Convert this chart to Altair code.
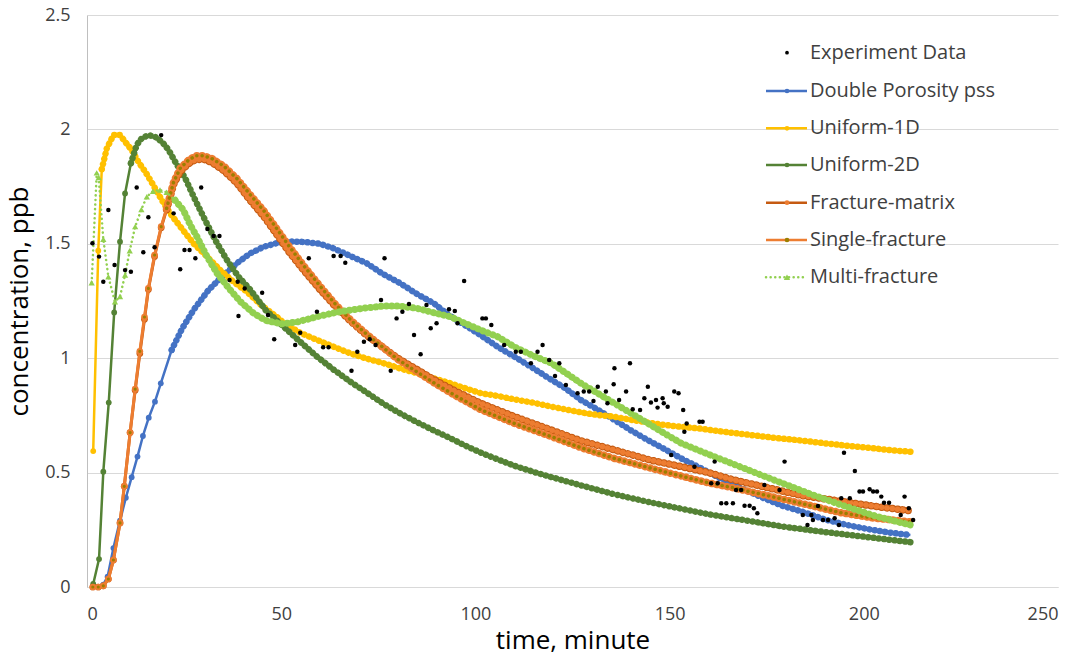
import altair as alt
import pandas as pd

# ---------------- data ----------------
exp_t = [1.4, 3.1, 4.2, 5.5, 7.1, 9.8, 11.3, 12.8, 14.5, 15.8, 17.4, 19.1, 22.3, 24.0, 25.1, 26.4, 27.9, 29.4,
         31.0, 32.6, 34.1, 36.7, 38.8, 39.0, 40.6, 45.1, 46.6, 48.2, 53.6, 54.9, 57.1, 59.2, 60.8, 62.2, 63.5,
         65.3, 66.5, 68.1, 69.6, 71.3, 72.8, 74.3, 75.7, 76.6, 78.2, 79.7, 81.2, 82.9, 84.2, 85.9, 87.4, 88.5,
         90.0, 93.2, 94.7, 95.4, 97.1, 101.8, 102.7, 104.1, 107.4, 110.4, 111.7, 114.3, 116.0, 117.3, 119.0,
         120.5, 121.6, 123.3, 126.3, 127.9, 129.3, 130.4, 131.5, 133.6, 134.0, 135.6, 135.8, 137.0, 138.8,
         139.8, 140.5, 142.4, 143.5, 144.4, 145.2, 146.5, 146.9, 148.2, 148.5, 149.5, 150.4, 151.2, 152.3,
         153.5, 153.8, 154.4, 156.4, 157.7, 158.5, 160.7, 161.6, 162.4, 163.3, 164.6, 166.3, 167.1, 168.4,
         169.3, 170.6, 171.7, 172.6, 174.4, 178.3, 179.6, 184.3, 185.5, 186.5, 186.9, 188.2, 189.5, 190.8,
         192.5, 193.6, 194.2, 194.9, 196.4, 197.7, 198.9, 199.8, 201.5, 202.4, 203.4, 204.5, 205.2, 206.5,
         209.5, 210.5, 211.6, 212.7]
exp_y = [1.502, 1.444, 1.334, 1.648, 1.407, 1.385, 1.378, 1.746, 1.463, 1.616, 1.485, 1.975, 1.633, 1.389,
         1.473, 1.473, 1.437, 1.746, 1.565, 1.534, 1.534, 1.342, 1.334, 1.184, 1.305, 1.286, 1.189, 1.083,
         1.058, 1.111, 1.437, 1.203, 1.048, 1.048, 1.447, 1.447, 1.417, 0.945, 1.028, 1.072, 1.083, 1.058,
         1.254, 1.437, 0.945, 1.174, 1.203, 1.237, 1.101, 1.017, 1.233, 1.131, 1.153, 1.214, 1.206, 1.153,
         1.337, 1.174, 1.174, 1.145, 1.058, 1.028, 1.028, 0.978, 1.028, 1.058, 0.992, 0.922, 0.978, 0.883,
         0.847, 0.854, 0.854, 0.813, 0.875, 0.854, 0.803, 0.886, 0.956, 0.817, 0.854, 0.978, 0.777, 0.774,
         0.825, 0.875, 0.806, 0.817, 0.784, 0.825, 0.803, 0.788, 0.577, 0.854, 0.847, 0.774, 0.679, 0.715,
         0.526, 0.722, 0.722, 0.453, 0.548, 0.453, 0.366, 0.366, 0.366, 0.424, 0.424, 0.355, 0.355, 0.344,
         0.322, 0.446, 0.424, 0.548, 0.315, 0.271, 0.315, 0.293, 0.354, 0.293, 0.293, 0.300, 0.271, 0.388,
         0.587, 0.388, 0.507, 0.417, 0.417, 0.427, 0.417, 0.417, 0.395, 0.368, 0.368, 0.315, 0.395, 0.344,
         0.293]

dp_t = [1.5, 3, 4.2, 5.3, 6.8, 8.5, 10, 11.5, 13, 14.4, 15.9, 17.5, 19, 21.8, 24.5, 27.4, 31.3, 34.7, 38.6,
        42, 45.5, 49.3, 53, 56, 60, 63.5, 68, 72, 76, 80.7, 85, 89.3, 93, 97.9, 101.4, 105.7, 110, 115, 119.6,
        123, 127.2, 131, 135.8, 140, 144.4, 149, 153, 158, 163, 168, 174, 179, 184, 190, 196, 202, 207, 212]
dp_y = [0, 0, 0.01, 0.045, 0.17, 0.29, 0.39, 0.48, 0.57, 0.66, 0.74, 0.81, 0.89, 1.036, 1.13, 1.21, 1.298,
        1.356, 1.415, 1.458, 1.487, 1.505, 1.51, 1.508, 1.50, 1.48, 1.445, 1.415, 1.37, 1.327, 1.28, 1.24,
        1.19, 1.138, 1.10, 1.05, 1.007, 0.955, 0.905, 0.87, 0.817, 0.78, 0.73, 0.685, 0.642, 0.60, 0.562,
        0.52, 0.475, 0.435, 0.39, 0.355, 0.33, 0.295, 0.27, 0.25, 0.237, 0.227]

u1_t = [1.6, 2.9, 3.8, 5.1, 6.8, 8.5, 9.8, 11.5, 13.2, 15, 16.7, 19.3, 21.4, 24, 27.4, 30.9, 34.3, 37.7, 41.2,
        45, 48.9, 50.6, 55, 59.2, 63.5, 67.8, 72, 76.4, 80.7, 85, 89.3, 93.6, 97.5, 101.4, 105.7, 110, 115,
        119.6, 125, 130, 135.8, 141, 147, 153, 158, 165, 172, 178, 184, 190, 196, 202, 207, 212]
u1_y = [0.594, 1.47, 1.826, 1.917, 1.975, 1.975, 1.946, 1.91, 1.859, 1.815, 1.767, 1.69, 1.633, 1.575, 1.502,
        1.444, 1.385, 1.334, 1.29, 1.23, 1.18, 1.155, 1.11, 1.08, 1.05, 1.021, 0.998, 0.978, 0.955, 0.934,
        0.912, 0.89, 0.868, 0.847, 0.835, 0.82, 0.805, 0.788, 0.77, 0.755, 0.744, 0.728, 0.712, 0.70, 0.692,
        0.676, 0.662, 0.65, 0.64, 0.628, 0.617, 0.607, 0.598, 0.591]

u2_t = [1.6, 3.1, 4.2, 5.6, 7, 8.5, 9.8, 11.3, 12.8, 14.1, 15.8, 17.5, 19.3, 21, 22.7, 25.3, 27.9, 30.4, 33,
        36, 39, 42, 46, 50.6, 55, 59.2, 63.5, 67.8, 72, 76.4, 80.7, 85, 89.3, 93.6, 97.5, 101.4, 106, 110,
        115, 119.6, 127, 135.8, 145, 153, 160, 170, 180, 190, 200, 212]
u2_y = [0.013, 0.122, 0.504, 0.806, 1.2, 1.509, 1.72, 1.852, 1.932, 1.961, 1.975, 1.968, 1.946, 1.91, 1.859,
        1.786, 1.69, 1.604, 1.517, 1.43, 1.356, 1.30, 1.21, 1.138, 1.07, 1.007, 0.95, 0.897, 0.85, 0.80,
        0.758, 0.72, 0.684, 0.65, 0.617, 0.587, 0.556, 0.53, 0.503, 0.48, 0.445, 0.405, 0.37, 0.342, 0.318,
        0.29, 0.262, 0.24, 0.22, 0.196]

fr_t = [1.5, 2.9, 4.2, 5.5, 6.8, 8.5, 9.6, 11.1, 12.4, 13.6, 14.8, 15.8, 17.4, 19.1, 20.5, 22.3, 24, 26.1, 28,
        30, 32.2, 35.2, 38.6, 42, 45.5, 48.9, 52, 56, 60, 64, 68, 72, 76, 80, 85, 90, 95, 101.4, 110, 119.6,
        127, 135.8, 145, 153, 160, 166, 175, 184, 194, 203, 212]
fm_y = [0, 0, 0.005, 0.035, 0.118, 0.28, 0.44, 0.675, 0.86, 1.02, 1.17, 1.30, 1.445, 1.57, 1.65, 1.76, 1.815,
        1.85, 1.868, 1.87, 1.855, 1.82, 1.765, 1.69, 1.62, 1.54, 1.465, 1.38, 1.30, 1.225, 1.16, 1.10, 1.05,
        1.0, 0.95, 0.90, 0.855, 0.803, 0.745, 0.686, 0.64, 0.599, 0.555, 0.526, 0.50, 0.47, 0.435, 0.40,
        0.375, 0.352, 0.333]
sf_y = [0, 0, 0.005, 0.035, 0.118, 0.28, 0.44, 0.675, 0.865, 1.03, 1.18, 1.305, 1.451, 1.575, 1.655, 1.77,
        1.83, 1.865, 1.885, 1.885, 1.872, 1.84, 1.785, 1.715, 1.645, 1.565, 1.49, 1.40, 1.315, 1.235, 1.165,
        1.105, 1.05, 0.995, 0.94, 0.885, 0.835, 0.775, 0.715, 0.657, 0.61, 0.562, 0.52, 0.485, 0.455, 0.435,
        0.40, 0.365, 0.325, 0.30, 0.285]

mf_t = [1.2, 2.5, 3, 4.2, 5.5, 7.2, 8.5, 9.8, 11, 12.4, 14, 15.4, 17, 18.8, 20.5, 22.7, 24.8, 26.6, 28.3, 30.9,
        33.5, 36.9, 39.5, 42.9, 46, 50, 54, 59.2, 64, 67.8, 72, 76.4, 80, 85, 89, 93.6, 97, 101.4, 105.7, 110,
        115, 119.6, 127.2, 135.8, 144.4, 153, 160, 166, 175, 186.5, 194, 203, 212]
mf_y = [1.33, 1.81, 1.79, 1.52, 1.356, 1.247, 1.27, 1.364, 1.47, 1.575, 1.65, 1.706, 1.73, 1.735, 1.725, 1.69,
        1.648, 1.582, 1.531, 1.444, 1.371, 1.298, 1.247, 1.196, 1.165, 1.15, 1.158, 1.181, 1.20, 1.21, 1.22,
        1.228, 1.228, 1.218, 1.20, 1.181, 1.155, 1.123, 1.094, 1.05, 1.01, 0.978, 0.89, 0.803, 0.715, 0.628,
        0.58, 0.54, 0.48, 0.405, 0.36, 0.31, 0.271]

legend_names = ["Experiment Data", "Double Porosity pss", "Uniform-1D", "Uniform-2D",
                "Fracture-matrix", "Single-fracture", "Multi-fracture"]

# ---------------- styling ----------------
FONT = "Open Sans"
BLUE, GOLD, DGREEN = "#4472C4", "#FFC000", "#548235"
DORANGE, ORANGE, OLIVE, LGREEN = "#C55A11", "#ED7D31", "#9C7F00", "#92D050"

W, H = 971, 572
xs = alt.Scale(domain=[0, 250], nice=False)
ys = alt.Scale(domain=[0, 2.5], nice=False)

X = alt.X("t:Q", scale=xs, axis=alt.Axis(values=[0, 50, 100, 150, 200, 250], title="time, minute",
                                          grid=False, ticks=False, domainColor="#d9d9d9",
                                          labelPadding=18, titlePadding=4))
Y = alt.Y("y:Q", scale=ys, axis=alt.Axis(values=[0, 0.5, 1, 1.5, 2, 2.5], format="~g",
                                          title="concentration, ppb", grid=True, gridColor="#d9d9d9",
                                          ticks=False, domainColor="#bfbfbf", labelPadding=17,
                                          titlePadding=12))


def frame(t, y):
    return pd.DataFrame({"t": t, "y": y})


def line(df, color, width, dash=None, cap="butt"):
    kw = dict(color=color, strokeWidth=width, strokeCap=cap, strokeJoin="round")
    if dash is not None:
        kw["strokeDash"] = dash
    return alt.Chart(df).mark_line(**kw).encode(x=X, y=Y)


def beads(df, color, width, gap=5.2):
    return line(df, color, width, dash=[0.1, gap], cap="round")


def dots(df, color, diam, shape="circle"):
    return alt.Chart(df).mark_point(shape=shape, filled=True, opacity=1, color=color, strokeWidth=0,
                                    size=diam * diam * 0.8).encode(x=X, y=Y)


def series(df, split, lcolor, lwidth, markers, ldash=None, early_shape="circle"):
    """markers: list of (color, diameter) drawn from outer to inner."""
    early = df[df.t <= split]
    late = df[df.t >= split]
    cap = "round" if ldash else "butt"
    out = [line(df, lcolor, lwidth, dash=ldash, cap=cap)]
    for c, d in markers:
        out.append(dots(early, c, d, early_shape))
        out.append(beads(late, c, d))
    return out


dp = frame(dp_t, dp_y)
u1 = frame(u1_t, u1_y)
u2 = frame(u2_t, u2_y)
fm = frame(fr_t, fm_y)
sf = frame(fr_t, sf_y)
mf = frame(mf_t, mf_y)
ex = frame(exp_t, exp_y)

layers = []
layers += series(dp, 21.8, BLUE, 2.5, [(BLUE, 6.5)])
layers += series(u1, 3.8, GOLD, 2.5, [(GOLD, 6.5)])
layers += series(u2, 11.3, DGREEN, 2.5, [(DGREEN, 6.5)])
layers += series(fm, 20.5, DORANGE, 3, [(DORANGE, 7.5), (ORANGE, 5.5)])
layers += series(sf, 20.5, ORANGE, 3, [(ORANGE, 7.5), (OLIVE, 3.5)])
layers += series(mf, 22.7, LGREEN, 2.5, [(LGREEN, 7)], ldash=[0.1, 4.5], early_shape="triangle-up")
layers.append(alt.Chart(ex).mark_circle(size=20, color="black", opacity=1).encode(x=X, y=Y))

# ---------------- legend (drawn manually, inside plot) ----------------
one = pd.DataFrame({"a": [0]})
row_y = [37.7, 76, 113.3, 150, 187.7, 225, 262.3]
sym = [(None, "black", None), (BLUE, BLUE, None), (GOLD, GOLD, None), (DGREEN, DGREEN, None),
       (DORANGE, ORANGE, None), (ORANGE, OLIVE, None), (LGREEN, LGREEN, "dot")]
for name, yy, (lc, mc, style) in zip(legend_names, row_y, sym):
    if lc is not None:
        kw = dict(color=lc, strokeWidth=2.5)
        if style == "dot":
            kw.update(strokeDash=[0.1, 4.5], strokeCap="round")
        layers.append(alt.Chart(one).mark_rule(**kw).encode(
            x=alt.value(679), x2=alt.value(720), y=alt.value(yy)))
    if style == "dot":
        layers.append(alt.Chart(one).mark_point(shape="triangle-up", filled=True, size=40, color=mc,
                                                opacity=1).encode(x=alt.value(700), y=alt.value(yy)))
    else:
        layers.append(alt.Chart(one).mark_circle(size=22 if lc else 14, color=mc, opacity=1).encode(
            x=alt.value(700), y=alt.value(yy)))
    layers.append(alt.Chart(one).mark_text(align="left", baseline="middle", font=FONT, fontSize=20,
                                           color="#404040").encode(
        x=alt.value(723), y=alt.value(yy), text=alt.value(name)))

chart = alt.layer(*layers).properties(
    width=W, height=H,
    autosize=alt.AutoSizeParams(type="none"),
    padding={"left": 87, "top": 15, "right": 22, "bottom": 76},
).configure_view(stroke=None).configure_axis(
    labelFont=FONT, labelFontSize=18, labelColor="#404040",
    titleFont=FONT, titleFontSize=26, titleColor="#000000", titleFontWeight="normal",
)

chart.save("out.html", embed_options={"renderer": "svg", "actions": False})
